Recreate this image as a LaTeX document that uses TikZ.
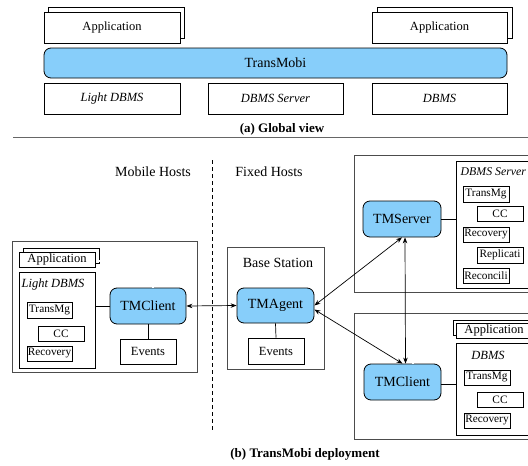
\documentclass[tikz,border=0pt]{standalone}
\usepackage{fontspec}
\setmainfont{Liberation Serif}
\usetikzlibrary{arrows.meta}
\definecolor{tmblue}{RGB}{135,206,250}

\begin{document}
\begin{tikzpicture}[x=1pt,y=-1pt,
    box/.style={draw,fill=white,line width=0.7pt,inner sep=0pt,font=\fontsize{12.5}{14}\selectfont},
    small/.style={box,font=\fontsize{11.3}{12}\selectfont},
    tm/.style={draw,fill=tmblue,rounded corners=7pt,line width=0.8pt,inner sep=0pt,font=\fontsize{14}{16}\selectfont},
    host/.style={draw=black!70,line width=1pt},
    dbl/.style={double,double distance=1.5pt,line width=0.6pt},
    link/.style={{Stealth[length=6pt,width=4.5pt]}-{Stealth[length=6pt,width=4.5pt]},line width=0.7pt}]
    \useasboundingbox (0,0) rectangle (528,466);
    \clip (0,0) rectangle (528,466);

    % (a) global view
    \draw[box] (48,7) rectangle (184,38);
    \node[box,minimum width=136pt,minimum height=31pt] at (112,27.5) (gapp1) {Application};
    \draw[box] (377,7) rectangle (512,38);
    \node[box,minimum width=135pt,minimum height=31pt] at (439.5,27.5) (gapp2) {Application};
    \node[tm,minimum width=463pt,minimum height=30pt] at (275.5,63) (gtm) {TransMobi};
    \node[box,minimum width=136pt,minimum height=31pt] at (112,98.5) (gldb) {\itshape Light DBMS};
    \node[box,minimum width=135pt,minimum height=31pt] at (275.5,98.5) (gsrv) {\itshape DBMS Server};
    \node[box,minimum width=135pt,minimum height=31pt] at (439.5,98.5) (gdb) {\itshape DBMS};
    \node[font=\fontsize{13}{15}\selectfont\bfseries] at (282,129) (capa) {(a) Global view};
    \draw[black!60,line width=0.8pt] (13,137) -- (528,137);

    % (b) deployment
    \node[font=\fontsize{14}{16}\selectfont] at (153,172) (mob) {Mobile Hosts};
    \node[font=\fontsize{14}{16}\selectfont] at (269,172) (fix) {Fixed Hosts};
    \draw[dashed,line width=0.7pt,dash pattern=on 4pt off 3pt] (212,160) -- (212,430);

    % mobile host
    \draw[host] (12,241) rectangle (197,372);
    \draw[box] (23,248) rectangle (99,263);
    \node[box,minimum width=76pt,minimum height=15pt] at (57,259.5) (mapp) {Application};
    \coordinate (mappout) at (99,261);
    \node[box,minimum width=76pt,minimum height=96pt] at (57,320) (mldb) {};
    \node[font=\fontsize{12.5}{14}\selectfont\itshape] at (53,284) (mldbl) {Light DBMS};
    \node[small,minimum width=45pt,minimum height=16pt] at (49.5,310) (mtr) {TransMg};
    \node[small,minimum width=46pt,minimum height=15pt] at (61,333.5) (mcc) {CC};
    \node[small,minimum width=45pt,minimum height=15pt] at (49.5,353.5) (mrec) {Recovery};
    \node[tm,minimum width=76pt,minimum height=36pt] at (148,306) (tmc) {TMClient};
    \node[box,minimum width=56pt,minimum height=25pt] at (148,351.5) (mev) {Events};

    % base station
    \draw[host] (227,247) rectangle (324,369);
    \node[font=\fontsize{14}{16}\selectfont] at (278,263) (bsl) {Base Station};
    \node[tm,minimum width=77pt,minimum height=35pt] at (275.5,305.5) (tma) {TMAgent};
    \node[box,minimum width=56pt,minimum height=26pt] at (276,351) (bev) {Events};

    % server host
    \draw[host] (354,155) rectangle (545,292);
    \node[tm,minimum width=78pt,minimum height=36pt] at (402,219) (tms) {TMServer};
    \node[box,minimum width=84pt,minimum height=127pt] at (498,224.5) (sdb) {};
    \node[anchor=west,inner sep=1.5pt,font=\fontsize{11.8}{14}\selectfont\itshape] at (459,172) (sdbl) {DBMS Server};
    \node[small,minimum width=46pt,minimum height=16pt] at (486,194) (str) {TransMg};
    \node[small,minimum width=46pt,minimum height=15pt] at (500,213.5) (scc) {CC};
    \node[small,minimum width=46pt,minimum height=15pt] at (486,234.5) (srec) {Recovery};
    \node[small,minimum width=46pt,minimum height=16pt] at (500,255) (srep) {Replicati};
    \node[small,minimum width=46pt,minimum height=15pt] at (486,275.5) (srcn) {Reconcili};

    % fixed client host
    \draw[host] (354,313) rectangle (545,439);
    \draw[box] (453,320) rectangle (540,335);
    \node[box,minimum width=84pt,minimum height=15pt] at (498,330.5) (capp) {\hspace*{-8pt}Application};
    \coordinate (cappout) at (453,333);
    \node[box,minimum width=84pt,minimum height=92pt] at (498,389) (cdb) {};
    \node[font=\fontsize{12.5}{14}\selectfont\itshape] at (488,355) (cdbl) {DBMS};
    \node[small,minimum width=46pt,minimum height=15pt] at (487,377.5) (ctr) {TransMg};
    \node[small,minimum width=46pt,minimum height=15pt] at (500,399.5) (ccc) {CC};
    \node[small,minimum width=46pt,minimum height=15pt] at (487,420.5) (crec) {Recovery};
    \node[tm,minimum width=77pt,minimum height=36pt] at (402.5,382) (tmc2) {TMClient};

    \node[font=\fontsize{13}{15}\selectfont\bfseries] at (305,454) (capb) {(b) TransMobi deployment};

    % links
    \draw[line width=0.7pt] (tmc.west) -- (tmc.west -| mldb.east);
    \draw[line width=0.7pt] (tmc.south) -- (mev.north);
    \draw[dbl] (mappout) -| ([xshift=5pt]tmc.north);
    \draw[line width=0.7pt] (tma.south) -- (bev.north);
    \draw[line width=0.7pt] (tms.east) -- (tms.east -| sdb.west);
    \draw[line width=0.7pt] ([yshift=-2pt]tmc2.east) -- ([yshift=-2pt]tmc2.east -| cdb.west);
    \draw[dbl] (cappout) -| ([xshift=10.5pt]tmc2.north);
    \draw[link] (tmc.east) -- (tma.west);
    \draw[link] (tma.east) -- (tms.south);
    \draw[link] ([yshift=-4pt]tma.east) -- (tmc2.north);
    \draw[link] ([xshift=3pt]tms.south) -- ([xshift=3pt]tmc2.north);
\end{tikzpicture}
\end{document}
